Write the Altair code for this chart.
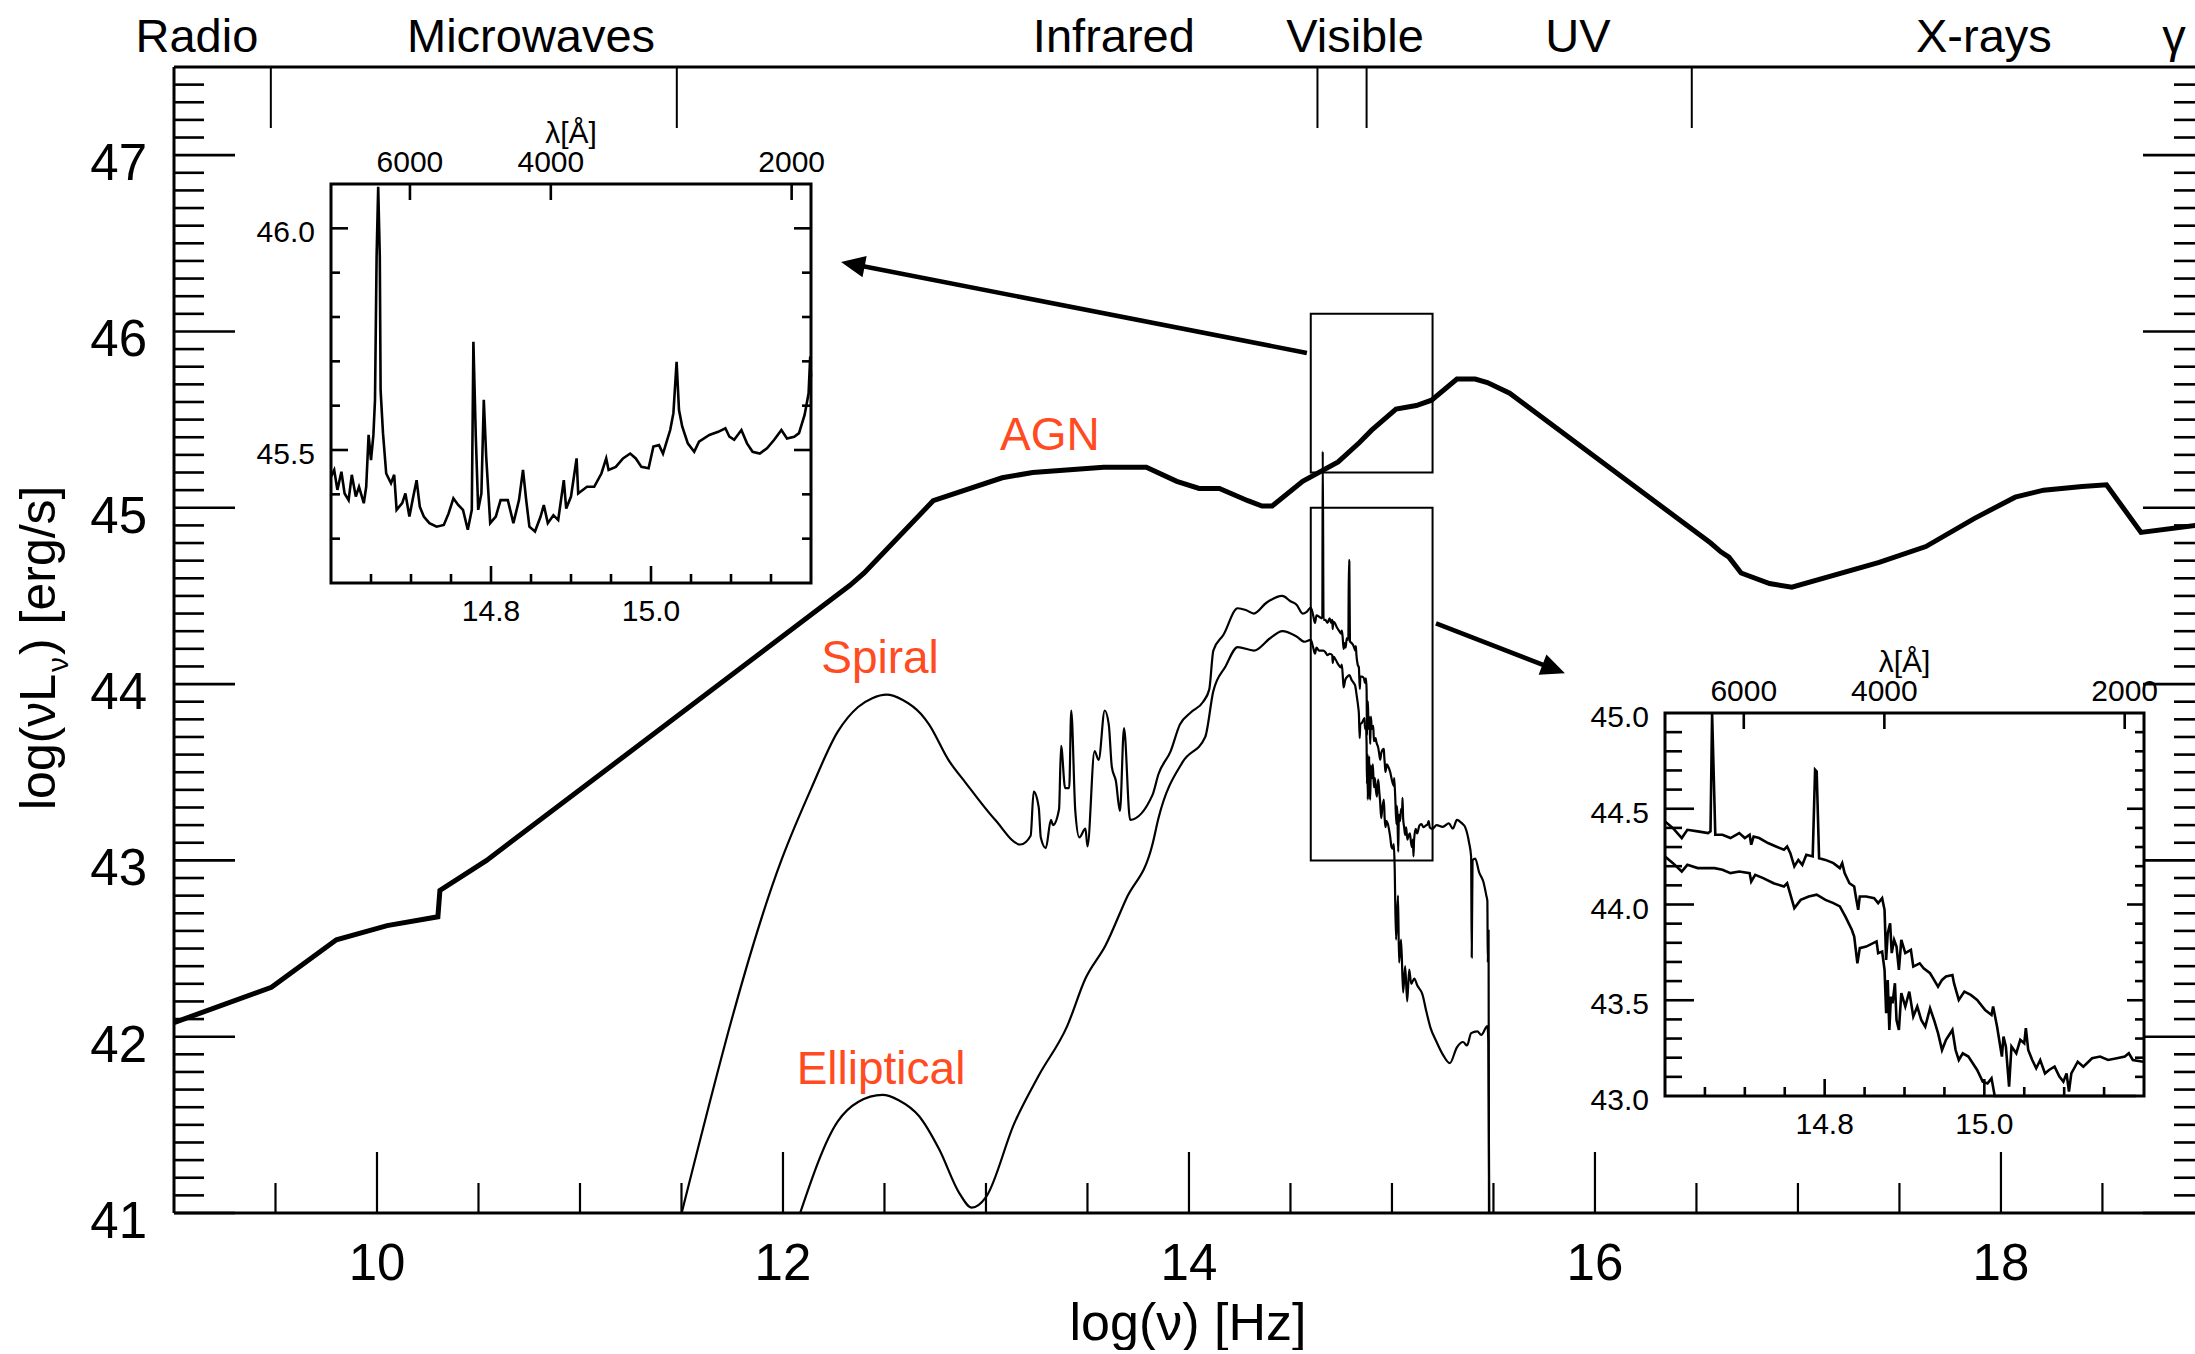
import math
import numpy as np
import pandas as pd
import altair as alt

FONT = "Liberation Sans"
LABEL_RED = "#FF4B1F"

# ---------------------------------------------------------------- data
# AGN template SED (thick line)
AGN_X = [9.0, 9.48, 9.80, 10.05, 10.30, 10.31, 10.54, 12.33, 12.40, 12.74, 13.08, 13.23,
         13.58, 13.79, 13.94, 14.05, 14.15, 14.29, 14.36, 14.41, 14.56, 14.735, 14.84, 14.90,
         15.02, 15.12, 15.195, 15.32, 15.41, 15.47, 15.58, 16.57, 16.62, 16.66, 16.72, 16.86,
         16.97, 17.40, 17.63, 17.87, 18.07, 18.21, 18.40, 18.52, 18.69, 18.96]
AGN_Y = [42.08, 42.28, 42.55, 42.63, 42.68, 42.83, 43.00, 44.56, 44.63, 45.04, 45.17, 45.20,
         45.23, 45.23, 45.15, 45.11, 45.11, 45.04, 45.01, 45.01, 45.15, 45.26, 45.37, 45.44,
         45.56, 45.58, 45.61, 45.73, 45.73, 45.71, 45.65, 44.80, 44.75, 44.72, 44.63, 44.57,
         44.55, 44.69, 44.78, 44.94, 45.06, 45.10, 45.12, 45.13, 44.86, 44.90]

# Spiral galaxy SED: far-IR / mid-IR part
SPIRAL_IR_X = [11.49, 11.995, 12.14, 12.27, 12.37, 12.44, 12.51, 12.59, 12.68, 12.72, 12.815,
               12.90, 13.045, 13.17, 13.22, 13.235, 13.26, 13.27, 13.295, 13.32, 13.33, 13.36,
               13.37, 13.39, 13.41, 13.42, 13.44, 13.46, 13.49, 13.50, 13.535, 13.555, 13.585,
               13.605, 13.62, 13.64, 13.66, 13.68, 13.71, 13.82, 13.85, 13.91, 13.955, 14.01,
               14.07, 14.10, 14.12, 14.17, 14.24, 14.28, 14.32, 14.38, 14.46, 14.50, 14.53,
               14.56, 14.58]
SPIRAL_IR_Y = [40.95, 43.01, 43.41, 43.73, 43.87, 43.92, 43.94, 43.91, 43.83, 43.77, 43.57,
               43.44, 43.23, 43.09, 43.14, 43.39, 43.30, 43.13, 43.07, 43.23, 43.20, 43.29,
               43.65, 43.41, 43.41, 43.85, 43.28, 43.13, 43.18, 43.08, 43.62, 43.57, 43.85,
               43.77, 43.53, 43.45, 43.28, 43.75, 43.23, 43.37, 43.49, 43.62, 43.77, 43.84,
               43.90, 43.97, 44.19, 44.28, 44.43, 44.42, 44.40, 44.46, 44.50, 44.47, 44.45,
               44.40, 44.41]
# Spiral galaxy SED: optical spectrum
SPIRAL_OPT_X = [14.600, 14.610, 14.621, 14.628, 14.641, 14.654, 14.657, 14.659, 14.663, 14.672,
                14.682, 14.693, 14.700, 14.706, 14.708, 14.711, 14.718, 14.729, 14.739, 14.749,
                14.753, 14.757, 14.762, 14.767, 14.772, 14.777, 14.785, 14.788, 14.790, 14.793,
                14.801, 14.811, 14.819, 14.822, 14.825, 14.831, 14.837, 14.839, 14.842, 14.844,
                14.852, 14.862, 14.867, 14.872, 14.875, 14.877, 14.879, 14.882, 14.884, 14.887,
                14.890, 14.893, 14.896, 14.901, 14.908, 14.911, 14.919, 14.924, 14.932, 14.937,
                14.942, 14.947, 14.952, 14.960, 14.962, 14.965, 14.968, 14.975, 14.983, 14.991,
                15.001, 15.009, 15.011, 15.016, 15.022, 15.024, 15.027, 15.031, 15.034, 15.040,
                15.045, 15.050, 15.052, 15.055, 15.060, 15.065, 15.070, 15.076, 15.081, 15.088,
                15.094, 15.099, 15.103, 15.106, 15.109, 15.117, 15.124, 15.135, 15.145, 15.155,
                15.166, 15.176, 15.181, 15.186, 15.199]
SPIRAL_OPT_Y = [44.434, 44.399, 44.347, 44.390, 44.382, 44.373, 44.382, 45.320, 44.364, 44.364,
                44.347, 44.373, 44.347, 44.364, 44.312, 44.355, 44.347, 44.321, 44.303, 44.286,
                44.303, 44.268, 44.199, 44.233, 44.207, 44.260, 44.251, 44.704, 44.695, 44.242,
                44.233, 44.216, 44.190, 44.216, 44.164, 44.111, 44.094, 44.042, 43.972, 44.042,
                44.042, 44.033, 44.007, 44.033, 43.972, 43.711, 43.850, 43.902, 43.746, 43.815,
                43.780, 43.659, 43.815, 43.746, 43.763, 43.676, 43.693, 43.667, 43.641, 43.606,
                43.571, 43.606, 43.624, 43.632, 43.589, 43.545, 43.502, 43.545, 43.528, 43.502,
                43.449, 43.423, 43.467, 43.362, 43.206, 43.310, 43.258, 43.049, 43.258, 43.223,
                43.293, 43.275, 43.354, 43.240, 43.188, 43.145, 43.188, 43.118, 43.136, 43.153,
                43.101, 43.075, 43.118, 43.023, 43.118, 43.179, 43.153, 43.197, 43.206, 43.188,
                43.197, 43.206, 43.223, 43.188, 43.179]
# Spiral galaxy SED: near-UV end
SPIRAL_UV_X = [15.220, 15.250, 15.280, 15.300, 15.320, 15.345, 15.360, 15.380, 15.390, 15.393,
               15.397, 15.410, 15.430, 15.450, 15.465, 15.470, 15.472, 15.476, 15.478]
SPIRAL_UV_Y = [43.20, 43.19, 43.21, 43.18, 43.23, 43.21, 43.19, 43.10, 43.02, 42.45,
               43.00, 43.01, 42.93, 42.88, 42.80, 42.77, 42.42, 42.60, 40.90]

# Elliptical galaxy SED
ELLIP_IR_X = [12.07, 12.27, 12.37, 12.49, 12.57, 12.67, 12.77, 12.87, 12.93, 13.00, 13.14,
              13.26, 13.40, 13.49, 13.59, 13.69, 13.82, 13.85, 13.97, 14.08, 14.12, 14.18,
              14.24, 14.32, 14.40, 14.46, 14.53, 14.57]
ELLIP_IR_Y = [40.95, 41.52, 41.63, 41.67, 41.64, 41.55, 41.36, 41.11, 41.03, 41.09, 41.51,
              41.78, 42.06, 42.33, 42.52, 42.78, 43.09, 43.24, 43.56, 43.70, 43.96, 44.10,
              44.21, 44.19, 44.26, 44.30, 44.27, 44.24]
ELLIP_OPT_X = [14.600, 14.610, 14.621, 14.628, 14.641, 14.651, 14.662, 14.672, 14.682, 14.693,
               14.706, 14.708, 14.713, 14.723, 14.736, 14.749, 14.753, 14.759, 14.762, 14.770,
               14.780, 14.790, 14.801, 14.811, 14.819, 14.826, 14.834, 14.837, 14.841, 14.844,
               14.852, 14.865, 14.867, 14.872, 14.875, 14.877, 14.879, 14.881, 14.883, 14.885,
               14.888, 14.890, 14.893, 14.896, 14.901, 14.906, 14.911, 14.916, 14.921, 14.926,
               14.932, 14.937, 14.942, 14.947, 14.952, 14.960, 14.964, 14.968, 14.973, 14.980,
               14.991, 14.998, 15.004, 15.009, 15.013]
ELLIP_OPT_Y = [44.251, 44.216, 44.172, 44.207, 44.190, 44.190, 44.190, 44.181, 44.164, 44.172,
               44.164, 44.120, 44.155, 44.138, 44.111, 44.094, 44.111, 44.024, 43.981, 44.024,
               44.042, 44.051, 44.024, 44.007, 43.990, 43.937, 43.868, 43.833, 43.693, 43.772,
               43.780, 43.807, 43.746, 43.754, 43.659, 43.432, 43.606, 43.345, 43.519, 43.484,
               43.589, 43.397, 43.345, 43.537, 43.467, 43.545, 43.415, 43.467, 43.397, 43.362,
               43.458, 43.397, 43.328, 43.240, 43.293, 43.345, 43.240, 43.188, 43.223, 43.206,
               43.136, 43.075, 43.066, 43.092, 42.979]
ELLIP_UV_X = [15.020, 15.030, 15.035, 15.045, 15.055, 15.065, 15.075, 15.085, 15.095, 15.110,
              15.125, 15.150, 15.170, 15.190, 15.220, 15.250, 15.285, 15.320, 15.350, 15.370,
              15.390, 15.420, 15.440, 15.470, 15.475, 15.480]
ELLIP_UV_Y = [42.55, 42.80, 42.42, 42.55, 42.25, 42.40, 42.20, 42.38, 42.30, 42.33,
              42.29, 42.24, 42.14, 42.05, 41.97, 41.90, 41.85, 41.94, 41.97, 41.95,
              42.02, 42.03, 42.01, 42.06, 41.97, 40.90]

# Optical spectrum of the AGN (upper inset)
QSO_X = [14.600, 14.604, 14.608, 14.613, 14.617, 14.622, 14.626, 14.631, 14.635, 14.641,
         14.644, 14.647, 14.650, 14.653, 14.655, 14.657, 14.659, 14.661, 14.662, 14.665,
         14.669, 14.675, 14.679, 14.682, 14.689, 14.693, 14.698, 14.702, 14.707, 14.711,
         14.716, 14.723, 14.732, 14.741, 14.747, 14.753, 14.759, 14.765, 14.771, 14.776,
         14.778, 14.781, 14.784, 14.788, 14.791, 14.794, 14.799, 14.806, 14.812, 14.821,
         14.828, 14.835, 14.840, 14.844, 14.848, 14.855, 14.862, 14.866, 14.871, 14.878,
         14.884, 14.891, 14.894, 14.900, 14.907, 14.909, 14.920, 14.929, 14.938, 14.944,
         14.947, 14.956, 14.965, 14.974, 14.981, 14.988, 14.997, 15.003, 15.010, 15.015,
         15.024, 15.028, 15.032, 15.035, 15.039, 15.046, 15.054, 15.060, 15.073, 15.084,
         15.093, 15.098, 15.104, 15.113, 15.120, 15.127, 15.136, 15.145, 15.154, 15.163,
         15.170, 15.179, 15.185, 15.192, 15.197, 15.199, 15.200]
QSO_Y = [45.440, 45.455, 45.410, 45.451, 45.402, 45.387, 45.444, 45.395, 45.417, 45.380,
         45.417, 45.534, 45.477, 45.534, 45.613, 45.936, 46.094, 45.936, 45.635, 45.538,
         45.447, 45.425, 45.444, 45.365, 45.380, 45.402, 45.350, 45.387, 45.432, 45.372,
         45.350, 45.335, 45.327, 45.331, 45.357, 45.391, 45.376, 45.365, 45.320, 45.365,
         45.744, 45.530, 45.365, 45.402, 45.613, 45.485, 45.335, 45.350, 45.387, 45.387,
         45.335, 45.387, 45.455, 45.387, 45.327, 45.316, 45.350, 45.376, 45.335, 45.353,
         45.342, 45.432, 45.368, 45.395, 45.481, 45.402, 45.417, 45.417, 45.447, 45.481,
         45.455, 45.462, 45.481, 45.492, 45.481, 45.462, 45.459, 45.508, 45.511, 45.492,
         45.545, 45.583, 45.699, 45.590, 45.553, 45.515, 45.496, 45.519, 45.534, 45.541,
         45.549, 45.530, 45.523, 45.545, 45.515, 45.496, 45.492, 45.504, 45.523, 45.545,
         45.526, 45.530, 45.538, 45.579, 45.628, 45.711, 45.665]

# Spectral bands along the top edge
BAND_NAMES = ["Radio", "Microwaves", "Infrared", "Visible", "UV", "X-rays", "γ"]
BAND_LABEL_X = [9.113, 10.759, 13.63, 14.818, 15.916, 17.916, 18.852]
BAND_EDGES = [9.477, 11.477, 14.633, 14.875, 16.477]

# Curve labels
SED_NAMES = ["AGN", "Spiral", "Elliptical"]
SED_LABEL_X = [13.315, 12.478, 12.483]
SED_LABEL_Y = [45.328, 44.065, 41.732]

# Zoom windows (shown enlarged in the insets)
ZOOM_X = [14.6, 15.2]
ZOOM_TOP_Y = [45.2, 46.1]
ZOOM_LOW_Y = [43.0, 45.0]

# Arrows from the zoom windows to the insets: (start, end)
ARROWS = [((14.581, 45.878), (12.286, 46.394)),
          ((15.217, 44.344), (15.852, 44.061))]

# Axis ticks and tick labels
X_MAJOR = [10, 12, 14, 16, 18]
X_MINOR = [9.5, 10.5, 11, 11.5, 12.5, 13, 13.5, 14.5, 15, 15.5, 16.5, 17, 17.5, 18.5]
Y_MAJOR = [41, 42, 43, 44, 45, 46, 47]
Y_MINOR = [round(41 + 0.1 * k, 1) for k in range(1, 65) if k % 10]
IN_X_MAJOR = [14.8, 15.0]
IN_X_MINOR = [14.65, 14.7, 14.75, 14.85, 14.9, 14.95, 15.05, 15.1, 15.15]
IN_X_LABELS = ["14.8", "15.0"]
LAMBDA_TICKS = [6000, 4000, 2000]
C_ANGSTROM = 2.998e18

IN1_Y_MAJOR = [45.5, 46.0]
IN1_Y_MINOR = [45.3, 45.4, 45.6, 45.7, 45.8, 45.9]
IN1_Y_LABELS = [46.0, 45.5]
IN2_Y_MAJOR = [43.5, 44.0, 44.5]
IN2_Y_MINOR = [round(43 + 0.1 * k, 1) for k in range(1, 20) if k % 5]
IN2_Y_LABELS = [45.0, 44.5, 44.0, 43.5, 43.0]

# ---------------------------------------------------------------- layout
W, H = 2021, 1146
PAD = {"left": 174, "top": 67, "right": 0, "bottom": 137}
X_DOM = [9.0, 18.956]
Y_DOM = [41.0, 47.5]
RIGHT_AXIS = W + 9
PX_X = W / (X_DOM[1] - X_DOM[0])
PX_Y = H / (Y_DOM[1] - Y_DOM[0])

xs = alt.Scale(domain=X_DOM, nice=False, zero=False)
ys = alt.Scale(domain=Y_DOM, nice=False, zero=False)
ONE = pd.DataFrame({"k": [0]})


def series(xv, yv):
    return pd.DataFrame({"x": xv, "y": yv, "i": list(range(len(xv)))})


def hticks(vals, x0, x1, scale, width=2.6):
    return alt.Chart(pd.DataFrame({"v": vals})).mark_rule(color="black", strokeWidth=width).encode(
        y=alt.Y("v:Q", scale=scale, axis=None), x=alt.value(x0), x2=alt.value(x1))


def vticks(vals, y0, y1, scale, width=2.6):
    return alt.Chart(pd.DataFrame({"v": vals})).mark_rule(color="black", strokeWidth=width).encode(
        x=alt.X("v:Q", scale=scale, axis=None), y=alt.value(y0), y2=alt.value(y1))


def fixed_text(text, x, y, size, **kw):
    return alt.Chart(ONE).mark_text(text=text, font=FONT, fontSize=size, color="black", **kw).encode(
        x=alt.value(x), y=alt.value(y))


agn_df = series(AGN_X, AGN_Y)
spiral_df = series(SPIRAL_IR_X + SPIRAL_OPT_X + SPIRAL_UV_X, SPIRAL_IR_Y + SPIRAL_OPT_Y + SPIRAL_UV_Y)
ellip_df = series(ELLIP_IR_X + ELLIP_OPT_X + ELLIP_UV_X, ELLIP_IR_Y + ELLIP_OPT_Y + ELLIP_UV_Y)
qso_df = series(QSO_X, QSO_Y)

# ---------------------------------------------------------------- main panel
agn = alt.Chart(agn_df).mark_line(color="black", strokeWidth=5, clip=True).encode(
    x=alt.X("x:Q", scale=xs, axis=None),
    y=alt.Y("y:Q", scale=ys, axis=None),
    order="i:Q")


def thin_sed(df):
    return alt.Chart(df).mark_line(color="black", strokeWidth=2.2, clip=True, interpolate="monotone").encode(
        x=alt.X("x:Q", scale=xs, axis=None), y=alt.Y("y:Q", scale=ys, axis=None), order="i:Q")


frame = [
    alt.Chart(ONE).mark_rule(color="black", strokeWidth=3).encode(x=alt.value(0), y=alt.value(0), y2=alt.value(H)),
    alt.Chart(ONE).mark_rule(color="black", strokeWidth=3).encode(x=alt.value(0), x2=alt.value(W), y=alt.value(0)),
    alt.Chart(ONE).mark_rule(color="black", strokeWidth=3).encode(x=alt.value(0), x2=alt.value(W), y=alt.value(H)),
]

main_ticks = [
    hticks(Y_MAJOR, 0, 61, ys), hticks(Y_MINOR, 0, 30, ys),
    hticks(Y_MAJOR, RIGHT_AXIS - 61, W, ys), hticks(Y_MINOR, RIGHT_AXIS - 30, W, ys),
    vticks(X_MAJOR, H - 61, H, xs, 2.2), vticks(X_MINOR, H - 30, H, xs, 2.2),
    vticks(BAND_EDGES, 0, 61, xs, 2.0),
]

tick_labels = [
    alt.Chart(pd.DataFrame({"v": X_MAJOR, "t": [str(v) for v in X_MAJOR]})).mark_text(
        font=FONT, fontSize=51, color="black", align="center", baseline="alphabetic"
    ).encode(x=alt.X("v:Q", scale=xs, axis=None), y=alt.value(H + 67), text="t:N"),
    alt.Chart(pd.DataFrame({"v": Y_MAJOR, "t": [str(v) for v in Y_MAJOR]})).mark_text(
        font=FONT, fontSize=51, color="black", align="right", baseline="alphabetic", dy=25
    ).encode(y=alt.Y("v:Q", scale=ys, axis=None), x=alt.value(-27), text="t:N"),
]

zoom_df = pd.DataFrame({"x0": [ZOOM_X[0]] * 2, "x1": [ZOOM_X[1]] * 2,
                        "y0": [ZOOM_TOP_Y[0], ZOOM_LOW_Y[0]], "y1": [ZOOM_TOP_Y[1], ZOOM_LOW_Y[1]]})
zoom_boxes = alt.Chart(zoom_df).mark_rect(fillOpacity=0, stroke="black", strokeWidth=2).encode(
    x=alt.X("x0:Q", scale=xs, axis=None), x2="x1:Q",
    y=alt.Y("y0:Q", scale=ys, axis=None), y2="y1:Q")

# arrows: shaft stops at the base of the head, head is rotated along the shaft
HEAD_LEN = 24
shaft_rows, head_rows = [], []
for k, ((x0, y0), (x1, y1)) in enumerate(ARROWS):
    dx, dy = (x1 - x0) * PX_X, -(y1 - y0) * PX_Y
    length = math.hypot(dx, dy)
    f = (HEAD_LEN - 4) / length
    shaft_rows += [{"a": k, "i": 0, "x": x0, "y": y0},
                   {"a": k, "i": 1, "x": x1 - (x1 - x0) * f, "y": y1 - (y1 - y0) * f}]
    head_rows.append({"x": x1, "y": y1, "ang": math.degrees(math.atan2(dx, -dy)) % 360})

shafts = alt.Chart(pd.DataFrame(shaft_rows)).mark_line(color="black", strokeWidth=4.5).encode(
    x=alt.X("x:Q", scale=xs, axis=None), y=alt.Y("y:Q", scale=ys, axis=None),
    detail="a:N", order="i:Q")
heads = alt.Chart(pd.DataFrame(head_rows)).mark_point(
    shape="M0,0L-0.9,2L0.9,2Z", size=576, filled=True, color="black", opacity=1, strokeWidth=0
).encode(x=alt.X("x:Q", scale=xs, axis=None), y=alt.Y("y:Q", scale=ys, axis=None),
         angle=alt.Angle("ang:Q", scale=None))

band_labels = alt.Chart(pd.DataFrame({"name": BAND_NAMES, "x": BAND_LABEL_X})).mark_text(
    font=FONT, fontSize=47, color="black", align="center", baseline="alphabetic"
).encode(x=alt.X("x:Q", scale=xs, axis=None), y=alt.value(-15), text="name:N")

sed_labels = alt.Chart(pd.DataFrame({"name": SED_NAMES, "x": SED_LABEL_X, "y": SED_LABEL_Y})).mark_text(
    font=FONT, fontSize=46, color=LABEL_RED, align="center", baseline="alphabetic"
).encode(x=alt.X("x:Q", scale=xs, axis=None), y=alt.Y("y:Q", scale=ys, axis=None), text="name:N")

titles = [
    fixed_text("log(ν) [Hz]", 1014, 1273, 52, align="center", baseline="alphabetic"),
    fixed_text("log(νL", -119, 743, 50, align="left", baseline="alphabetic", angle=270),
    fixed_text("ν", -106, 605, 30, align="left", baseline="alphabetic", angle=270),
    fixed_text(") [erg/s]", -119, 588, 50, align="left", baseline="alphabetic", angle=270),
]

main = alt.layer(*frame, *main_ticks, zoom_boxes, thin_sed(ellip_df), thin_sed(spiral_df), agn,
                 shafts, heads, band_labels, sed_labels, *tick_labels, *titles)


# ---------------------------------------------------------------- insets
def make_inset(box, y_dom, y_major, y_minor, y_labels, curves, left_len):
    x0, x1, ytop, ybot = box
    xsi = alt.Scale(domain=ZOOM_X, range=[x0, x1], nice=False, zero=False)
    ysi = alt.Scale(domain=y_dom, range=[ybot, ytop], nice=False, zero=False)

    frame_df = pd.DataFrame({"x0": [ZOOM_X[0]], "x1": [ZOOM_X[1]], "y0": [y_dom[0]], "y1": [y_dom[1]]})
    box_mark = alt.Chart(frame_df).mark_rect(fill="white", stroke="black", strokeWidth=3).encode(
        x=alt.X("x0:Q", scale=xsi, axis=None), x2="x1:Q",
        y=alt.Y("y0:Q", scale=ysi, axis=None), y2="y1:Q")

    lines = []
    for df in curves:
        lines.append(
            alt.Chart(df).transform_filter(
                f"datum.x >= {ZOOM_X[0]} && datum.x <= {ZOOM_X[1]}"
            ).transform_calculate(
                yc=f"clamp(datum.y, {y_dom[0]}, {y_dom[1]})"
            ).mark_line(color="black", strokeWidth=2.6).encode(
                x=alt.X("x:Q", scale=xsi, axis=None), y=alt.Y("yc:Q", scale=ysi, axis=None), order="i:Q"))

    lam_df = pd.DataFrame({"lam": [str(v) for v in LAMBDA_TICKS],
                           "x": [float(np.log10(C_ANGSTROM / v)) for v in LAMBDA_TICKS]})
    ticks = [
        hticks(y_major, x0, x0 + left_len[0], ysi), hticks(y_minor, x0, x0 + left_len[1], ysi),
        hticks(y_major, x1 - 17, x1, ysi), hticks(y_minor, x1 - 9, x1, ysi),
        vticks(IN_X_MAJOR, ybot - 17, ybot, xsi), vticks(IN_X_MINOR, ybot - 9, ybot, xsi),
        vticks(lam_df["x"].tolist(), ytop, ytop + 16, xsi),
    ]
    txt = dict(font=FONT, fontSize=30, color="black")
    labels = [
        alt.Chart(pd.DataFrame({"v": y_labels, "t": [f"{v:.1f}" for v in y_labels]})).mark_text(
            align="right", baseline="middle", dy=5, **txt
        ).encode(y=alt.Y("v:Q", scale=ysi, axis=None), x=alt.value(x0 - 16), text="t:N"),
        alt.Chart(pd.DataFrame({"v": IN_X_MAJOR, "t": IN_X_LABELS})).mark_text(
            align="center", baseline="middle", **txt
        ).encode(x=alt.X("v:Q", scale=xsi, axis=None), y=alt.value(ybot + 29), text="t:N"),
        alt.Chart(lam_df).mark_text(align="center", baseline="middle", **txt).encode(
            x=alt.X("x:Q", scale=xsi, axis=None), y=alt.value(ytop - 21), text="lam:N"),
        alt.Chart(ONE).mark_text(text="λ[Å]", align="center", baseline="middle", **txt).encode(
            x=alt.value((x0 + x1) / 2), y=alt.value(ytop - 50)),
    ]
    return alt.layer(box_mark, *ticks, *lines, *labels)


inset_top = make_inset((157, 637, 117, 516), ZOOM_TOP_Y, IN1_Y_MAJOR, IN1_Y_MINOR, IN1_Y_LABELS,
                       [qso_df], (17, 9))
inset_low = make_inset((1491, 1970, 646, 1029), ZOOM_LOW_Y, IN2_Y_MAJOR, IN2_Y_MINOR, IN2_Y_LABELS,
                       [spiral_df, ellip_df], (29, 17))

chart = alt.layer(main, inset_top, inset_low).resolve_scale(
    x="independent", y="independent"
).properties(
    width=W, height=H, padding=PAD, autosize=alt.AutoSizeParams(type="none"), background="white"
).configure_view(strokeWidth=0)

chart.save("out.html", embed_options={"renderer": "svg", "actions": False})
